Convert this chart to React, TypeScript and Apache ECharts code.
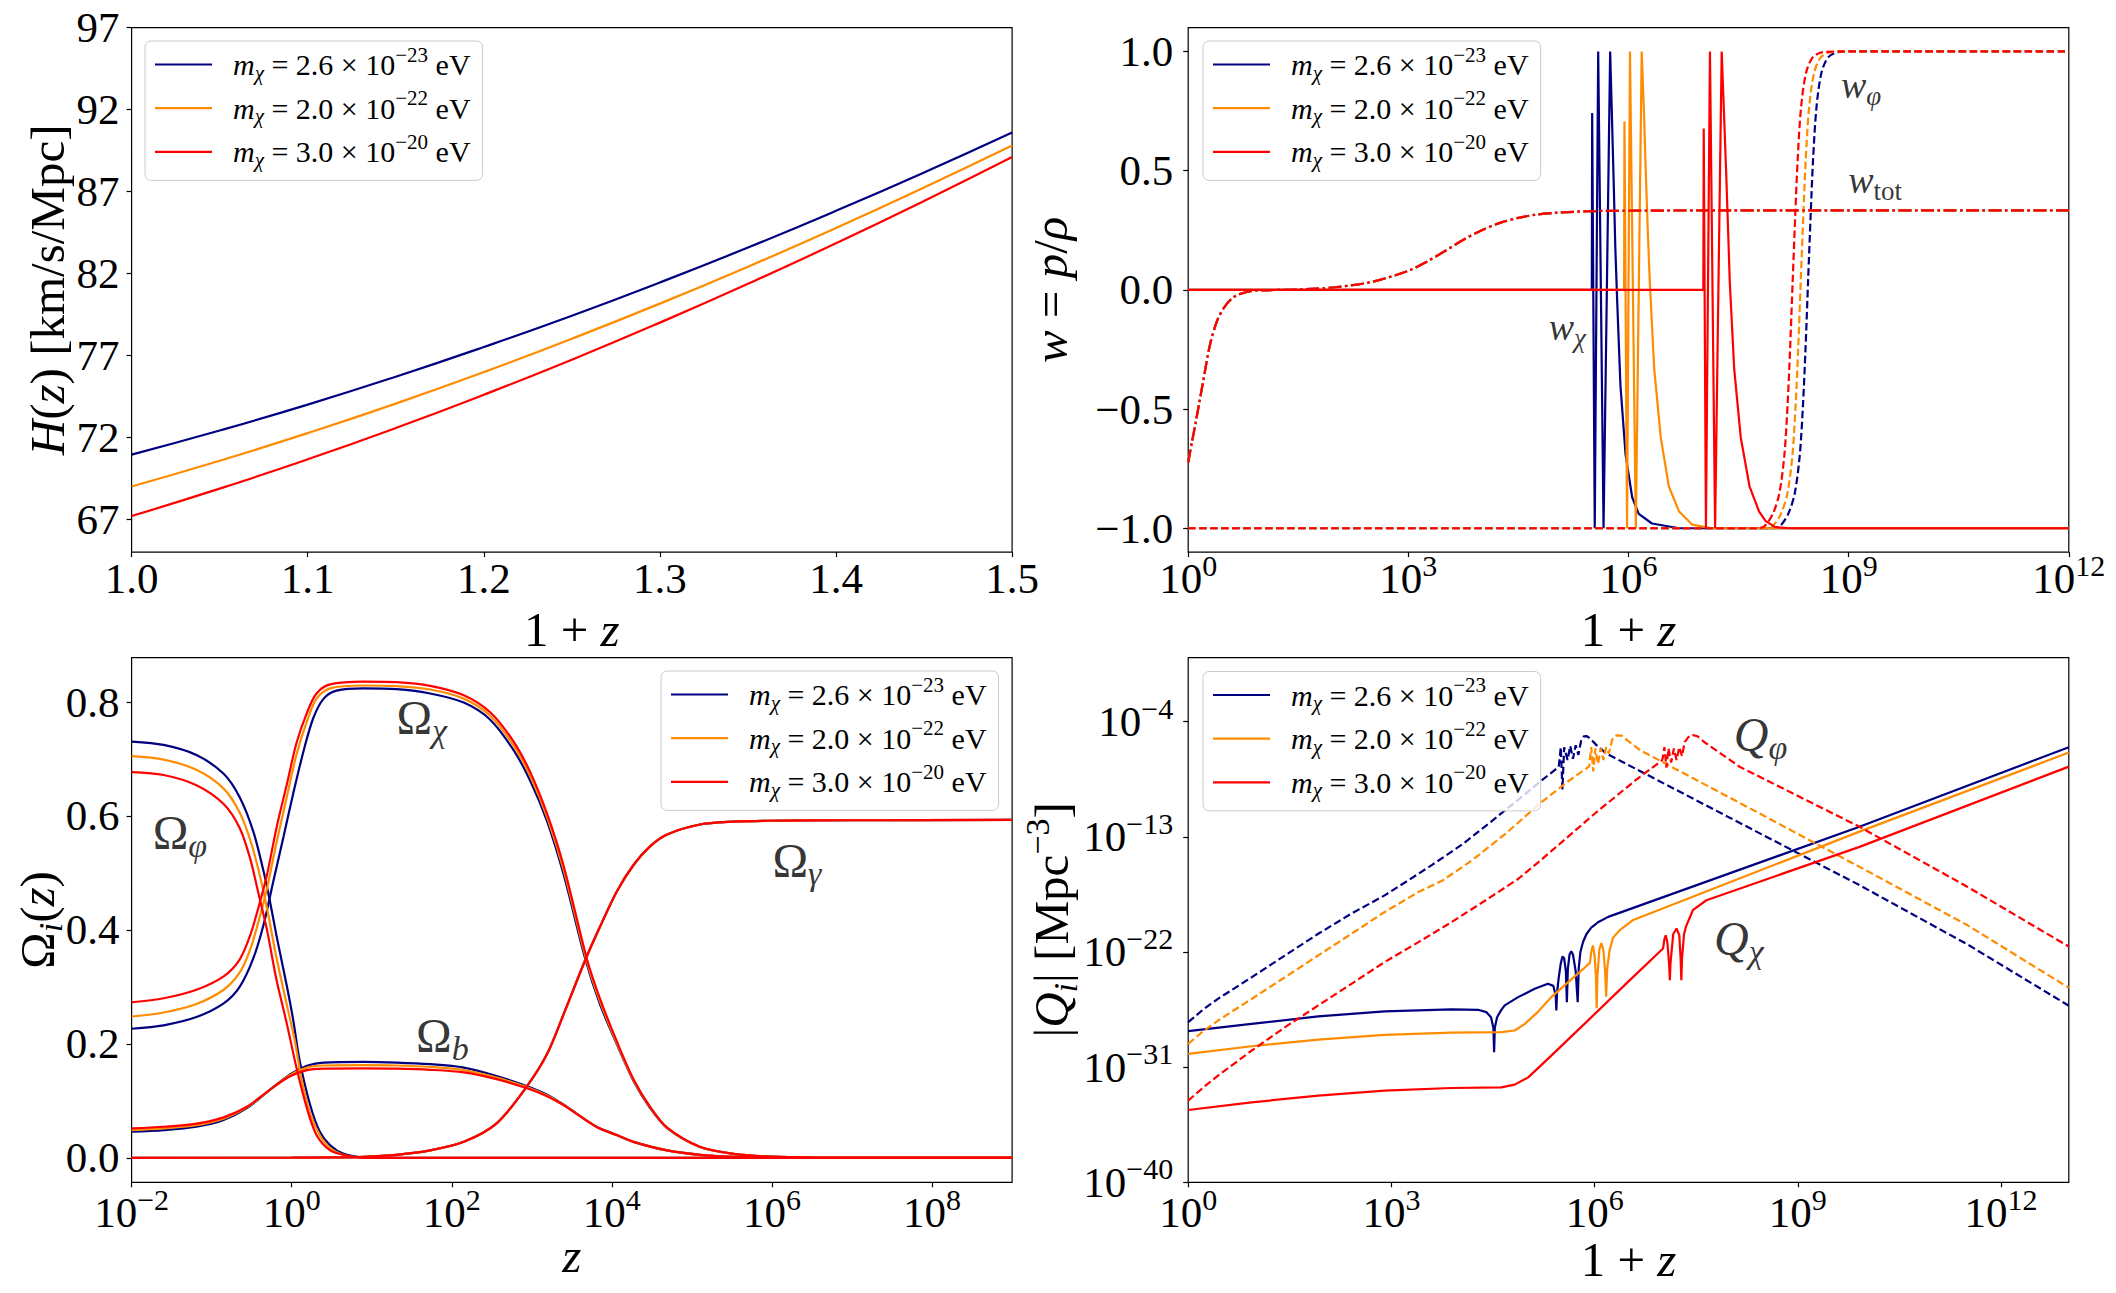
import React, { useEffect, useRef } from "react";
import * as echarts from "echarts";

const FONT = "Liberation Serif";
const NAVY = "#000080";
const ORANGE = "#ff8c00";
const RED = "#ff0000";
const COLORS = [NAVY, ORANGE, RED];
const MASS_NAMES = ["m1", "m2", "m3"];
const MASS_MANTISSA = ["2.6", "2.0", "3.0"];
const MASS_EXPONENT = ["−23", "−22", "−20"];

// ---------- Panel 1: H(z) vs 1+z ----------
const hX = [1.0, 1.05, 1.1, 1.15, 1.2, 1.25, 1.3, 1.35, 1.4, 1.45, 1.5];
const hNavy = [70.95, 72.42, 74.0, 75.7, 77.51, 79.42, 81.45, 83.58, 85.82, 88.16, 90.6];
const hOrange = [69.0, 70.57, 72.26, 74.06, 75.98, 78.02, 80.16, 82.41, 84.77, 87.24, 89.8];
const hRed = [67.2, 68.87, 70.66, 72.57, 74.6, 76.74, 79.0, 81.37, 83.84, 86.42, 89.1];
const hTicksX = [1.0, 1.1, 1.2, 1.3, 1.4, 1.5];
const hTicksY = [67, 72, 77, 82, 87, 92, 97];

// ---------- Panel 2: w vs log10(1+z) ----------
const wTot = [[0, -0.724], [0.05, -0.64], [0.1, -0.56], [0.15, -0.475], [0.2, -0.39], [0.3, -0.226], [0.4, -0.125], [0.5, -0.069], [0.6, -0.035], [0.7, -0.018], [0.85, -0.006], [1.0, -0.002], [1.5, 0.0015], [2.0, 0.011], [2.5, 0.033], [3.0, 0.08], [3.25, 0.118], [3.5, 0.163], [3.75, 0.21], [4.0, 0.25], [4.25, 0.281], [4.5, 0.302], [4.75, 0.316], [5.0, 0.323], [5.5, 0.33], [6.0, 0.332], [7.0, 0.333], [12.0, 0.333]];
const wPhiNavy = [[0, -1], [7.96, -1], [8.06, -0.992], [8.175, -0.941], [8.265, -0.854], [8.334, -0.693], [8.379, -0.475], [8.411, -0.256], [8.447, 0.035], [8.484, 0.327], [8.515, 0.545], [8.561, 0.764], [8.629, 0.91], [8.72, 0.975], [8.856, 0.997], [9.1, 1], [12, 1]];
const wPhiOrange = [[0, -1], [7.86, -1], [7.96, -0.992], [8.075, -0.941], [8.165, -0.854], [8.234, -0.693], [8.279, -0.475], [8.311, -0.256], [8.347, 0.035], [8.384, 0.327], [8.415, 0.545], [8.461, 0.764], [8.529, 0.91], [8.62, 0.975], [8.756, 0.997], [9.0, 1], [12, 1]];
const wPhiRed = [[0, -1], [7.75, -1], [7.85, -0.992], [7.965, -0.941], [8.055, -0.854], [8.124, -0.693], [8.169, -0.475], [8.201, -0.256], [8.237, 0.035], [8.274, 0.327], [8.305, 0.545], [8.351, 0.764], [8.419, 0.91], [8.51, 0.975], [8.646, 0.997], [8.9, 1], [12, 1]];
const wChiNavy = [[0, 0], [5.5, 0], [5.505, 0.742], [5.54, -1], [5.587, 1], [5.66, -1], [5.75, 1], [5.775, 0.72], [5.8, 0.43], [5.82, 0.18], [5.845, -0.04], [5.89, -0.4], [5.96, -0.69], [6.05, -0.87], [6.14, -0.94], [6.32, -0.98], [6.69, -1], [12, -1]];
const wChiOrange = [[0, 0], [5.94, 0], [5.945, 0.706], [5.98, -1], [6.02, 1], [6.1, -1], [6.18, 1], [6.21, 0.75], [6.235, 0.5], [6.26, 0.27], [6.29, 0.035], [6.35, -0.33], [6.44, -0.62], [6.55, -0.825], [6.69, -0.93], [6.87, -0.985], [7.14, -1], [12, -1]];
const wChiRed = [[0, 0], [7.02, 0], [7.025, 0.677], [7.055, -1], [7.11, 1], [7.18, -1], [7.27, 1], [7.3, 0.75], [7.33, 0.5], [7.355, 0.27], [7.38, 0.035], [7.44, -0.33], [7.53, -0.62], [7.65, -0.825], [7.78, -0.93], [7.87, -0.97], [8.0, -0.995], [8.2, -1], [12, -1]];
const wTicksX = [0, 3, 6, 9, 12];
const wTicksY = [-1, -0.5, 0, 0.5, 1];
const wNotes = [[9.17, 0.86, "{w|w}{ws|φ}"], [9.36, 0.462, "{w|w}{wr|tot}"], [5.166, -0.155, "{w|w}{ws|χ}"]];

// ---------- Panel 3: Omega_i vs log10(z) ----------
const omPhiNavy = [[-2, 0.7306], [-1.6, 0.7247], [-1.19, 0.707], [-0.85, 0.674], [-0.65, 0.633], [-0.48, 0.573], [-0.35, 0.502], [-0.27, 0.449], [-0.19, 0.39], [-0.06, 0.301], [0.02, 0.241], [0.1, 0.17], [0.23, 0.093], [0.35, 0.046], [0.48, 0.022], [0.65, 0.007], [0.9, 0.001], [1.5, 0], [9, 0]];
const omPhiOrange = [[-2, 0.705], [-1.6, 0.699], [-1.19, 0.681], [-0.85, 0.648], [-0.65, 0.606], [-0.5, 0.55], [-0.38, 0.485], [-0.29, 0.425], [-0.19, 0.351], [-0.06, 0.268], [0.04, 0.205], [0.12, 0.14], [0.23, 0.078], [0.35, 0.04], [0.48, 0.017], [0.65, 0.005], [0.9, 0.0005], [1.5, 0], [9, 0]];
const omPhiRed = [[-2, 0.677], [-1.6, 0.672], [-1.19, 0.654], [-0.85, 0.621], [-0.65, 0.579], [-0.52, 0.526], [-0.42, 0.467], [-0.31, 0.401], [-0.19, 0.3125], [-0.06, 0.235], [0.06, 0.158], [0.19, 0.087], [0.31, 0.04], [0.48, 0.013], [0.69, 0.004], [0.9, 0], [9, 0]];
const omChiNavy = [[-2, 0.2265], [-1.6, 0.2325], [-1.19, 0.247], [-0.85, 0.271], [-0.65, 0.3], [-0.48, 0.35], [-0.35, 0.41], [-0.23, 0.485], [-0.1, 0.565], [0.02, 0.64], [0.15, 0.715], [0.27, 0.772], [0.4, 0.806], [0.56, 0.82], [0.9, 0.824], [1.31, 0.8225], [1.73, 0.815], [2.15, 0.799], [2.48, 0.769], [2.77, 0.716], [2.98, 0.662], [3.19, 0.591], [3.4, 0.496], [3.67, 0.348], [3.85, 0.27], [4.06, 0.2], [4.27, 0.135], [4.48, 0.087], [4.69, 0.052], [5.1, 0.019], [5.52, 0.007], [5.94, 0.0024], [6.5, 0.0005], [7, 0], [9, 0]];
const omChiOrange = [[-2, 0.248], [-1.6, 0.255], [-1.19, 0.27], [-0.85, 0.295], [-0.65, 0.325], [-0.52, 0.365], [-0.42, 0.412], [-0.31, 0.472], [-0.19, 0.553], [-0.06, 0.634], [0.06, 0.708], [0.19, 0.766], [0.31, 0.806], [0.48, 0.824], [0.9, 0.829], [1.31, 0.828], [1.73, 0.822], [2.15, 0.806], [2.48, 0.776], [2.77, 0.724], [2.98, 0.67], [3.19, 0.598], [3.4, 0.504], [3.68, 0.348], [3.85, 0.275], [4.06, 0.202], [4.27, 0.136], [4.48, 0.088], [4.69, 0.0525], [5.1, 0.019], [5.52, 0.007], [5.94, 0.0024], [6.5, 0.0005], [7, 0], [9, 0]];
const omChiRed = [[-2, 0.273], [-1.6, 0.28], [-1.19, 0.295], [-0.85, 0.3185], [-0.65, 0.348], [-0.52, 0.39], [-0.42, 0.437], [-0.31, 0.496], [-0.19, 0.579], [-0.06, 0.656], [0.06, 0.728], [0.19, 0.781], [0.31, 0.815], [0.48, 0.831], [0.9, 0.836], [1.31, 0.835], [1.73, 0.8285], [2.15, 0.812], [2.48, 0.782], [2.77, 0.731], [2.98, 0.677], [3.19, 0.604], [3.4, 0.511], [3.69, 0.348], [3.85, 0.28], [4.06, 0.205], [4.27, 0.138], [4.48, 0.089], [4.69, 0.053], [5.1, 0.0195], [5.52, 0.007], [5.94, 0.0024], [6.5, 0.0005], [7, 0], [9, 0]];
const omBNavy = [[-2, 0.0457], [-1.6, 0.0486], [-1.19, 0.0546], [-0.85, 0.0664], [-0.56, 0.0872], [-0.27, 0.1198], [-0.02, 0.1465], [0.19, 0.1613], [0.4, 0.1672], [0.9, 0.1684], [1.31, 0.1672], [1.73, 0.1643], [2.15, 0.1583], [2.56, 0.1435], [2.94, 0.1257], [3.19, 0.1109], [3.4, 0.0931], [3.81, 0.0546], [4.06, 0.04], [4.27, 0.028], [4.69, 0.013], [5.1, 0.0053], [5.52, 0.0018], [6.5, 0], [9, 0]];
const omBOrange = [[-2, 0.0486], [-1.6, 0.0515], [-1.19, 0.0573], [-0.85, 0.0687], [-0.56, 0.0884], [-0.27, 0.1198], [-0.02, 0.145], [0.19, 0.1582], [0.4, 0.162], [0.9, 0.1627], [1.31, 0.162], [1.73, 0.1594], [2.15, 0.154], [2.56, 0.1408], [2.94, 0.1238], [3.19, 0.1095], [3.4, 0.0925], [3.81, 0.0543], [4.06, 0.04], [4.27, 0.028], [4.69, 0.013], [5.1, 0.0053], [5.52, 0.0018], [6.5, 0], [9, 0]];
const omBRed = [[-2, 0.0516], [-1.6, 0.0545], [-1.19, 0.06], [-0.85, 0.071], [-0.56, 0.0895], [-0.27, 0.1198], [-0.02, 0.143], [0.19, 0.154], [0.4, 0.1565], [0.9, 0.157], [1.31, 0.1565], [1.73, 0.1545], [2.15, 0.15], [2.56, 0.138], [2.94, 0.122], [3.19, 0.108], [3.4, 0.092], [3.81, 0.054], [4.06, 0.04], [4.27, 0.028], [4.69, 0.013], [5.1, 0.0053], [5.52, 0.0018], [6.5, 0], [9, 0]];
const omGamma = [[-2, 0], [0, 0.0002], [0.5, 0.0008], [0.9, 0.0018], [1.31, 0.0053], [1.73, 0.013], [2.15, 0.028], [2.56, 0.0605], [2.94, 0.1257], [3.19, 0.182], [3.4, 0.253], [3.67, 0.348], [3.85, 0.405], [4.06, 0.467], [4.27, 0.514], [4.48, 0.547], [4.69, 0.5675], [5.1, 0.585], [5.52, 0.59], [5.94, 0.5916], [7.0, 0.5925], [9, 0.593]];
const omTicksX = [-2, 0, 2, 4, 6, 8];
const omTicksY = [0, 0.2, 0.4, 0.6, 0.8];
const omNotes = [[1.625, 0.772, "{O|Ω}{Os|χ}"], [-1.396, 0.5705, "{O|Ω}{Os|φ}"], [1.883, 0.2147, "{O|Ω}{Os|b}"], [6.3125, 0.522, "{O|Ω}{Os|γ}"]];

// ---------- Panel 4: log10|Q_i| vs log10(1+z) ----------
const qPhiNavy = [[0, -27.49], [0.22, -26.5], [0.44, -25.66], [0.94, -23.97], [1.43, -22.27], [1.92, -20.58], [2.41, -19.0], [2.9, -17.58], [3.25, -16.4], [3.6, -15.2], [4.05, -13.58], [4.5, -11.7], [5.0, -9.55], [5.19, -8.71], [5.47, -7.55], [5.5, -6.0], [5.525, -9.3], [5.55, -6.0], [5.6, -7.0], [5.64, -5.9], [5.68, -6.9], [5.72, -5.85], [5.76, -6.6], [5.8, -5.5], [5.84, -5.15], [5.88, -5.13], [5.93, -5.3], [6.02, -5.8], [6.17, -6.49], [7.5, -10.15], [9.91, -16.78], [11.5, -21.4], [13.0, -26.2]];
const qPhiOrange = [[0, -29.18], [0.22, -28.2], [0.44, -27.36], [0.94, -25.66], [1.43, -23.97], [1.92, -22.27], [2.41, -20.58], [2.9, -18.88], [3.4, -17.31], [3.76, -16.4], [4.2, -14.8], [4.7, -12.7], [5.19, -10.4], [5.6, -8.7], [5.92, -7.5], [5.95, -6.0], [5.98, -7.9], [6.01, -6.1], [6.05, -7.3], [6.09, -6.1], [6.13, -7.0], [6.17, -6.0], [6.21, -6.5], [6.26, -5.4], [6.32, -5.08], [6.4, -5.1], [6.48, -5.45], [6.67, -6.23], [8.3, -10.8], [9.91, -15.35], [11.5, -19.9], [13.0, -24.8]];
const qPhiRed = [[0, -33.62], [0.22, -32.6], [0.44, -31.66], [0.94, -29.7], [1.43, -27.88], [1.92, -26.18], [2.41, -24.49], [2.9, -22.79], [3.4, -21.23], [3.89, -19.66], [4.38, -18.0], [4.87, -16.3], [5.19, -14.9], [6.0, -11.2], [6.6, -8.6], [7.0, -7.0], [7.03, -6.0], [7.06, -7.6], [7.09, -6.1], [7.13, -7.2], [7.17, -6.1], [7.21, -7.0], [7.25, -6.0], [7.29, -6.7], [7.33, -5.6], [7.4, -5.1], [7.45, -5.06], [7.52, -5.15], [7.62, -5.6], [8.14, -7.53], [9.91, -12.22], [11.5, -16.9], [13.0, -21.58]];
const qChiNavy = [[0, -28.19], [0.935, -27.62], [1.92, -27.04], [2.9, -26.65], [3.886, -26.49], [4.28, -26.52], [4.4, -26.7], [4.47, -27.1], [4.505, -27.9], [4.516, -29.83], [4.527, -27.9], [4.56, -27.1], [4.62, -26.55], [4.673, -26.18], [4.87, -25.53], [5.115, -24.88], [5.31, -24.49], [5.39, -24.65], [5.425, -25.4], [5.435, -26.57], [5.445, -25.2], [5.47, -24.0], [5.5, -22.9], [5.525, -22.35], [5.55, -22.5], [5.575, -23.5], [5.59, -25.92], [5.605, -23.3], [5.63, -22.2], [5.655, -21.95], [5.68, -22.2], [5.72, -23.5], [5.75, -25.92], [5.765, -23.3], [5.79, -22.0], [5.83, -21.2], [5.88, -20.6], [5.95, -20.1], [6.05, -19.68], [6.2, -19.26], [9.91, -12.22], [13.0, -6.0]];
const qChiOrange = [[0, -29.96], [0.935, -29.37], [1.92, -28.85], [2.9, -28.48], [3.886, -28.3], [4.624, -28.27], [4.82, -28.14], [4.97, -27.62], [5.16, -26.7], [5.36, -25.53], [5.61, -24.36], [5.85, -23.24], [5.93, -22.85], [5.95, -22.0], [5.975, -21.5], [6.0, -22.3], [6.02, -24.0], [6.03, -26.4], [6.04, -24.0], [6.07, -21.8], [6.1, -21.3], [6.13, -21.9], [6.155, -23.5], [6.17, -25.5], [6.185, -23.3], [6.22, -21.9], [6.27, -20.9], [6.37, -20.3], [6.57, -19.5], [9.91, -12.6], [13.0, -6.42]];
const qChiRed = [[0, -34.35], [0.935, -33.75], [1.92, -33.23], [2.9, -32.84], [3.886, -32.63], [4.62, -32.58], [4.82, -32.37], [5.02, -31.8], [5.36, -30.1], [5.85, -27.62], [6.5, -24.3], [7.01, -21.73], [7.03, -21.0], [7.05, -20.7], [7.075, -21.3], [7.1, -23.0], [7.11, -24.2], [7.12, -22.9], [7.16, -20.6], [7.21, -20.17], [7.25, -20.7], [7.27, -22.6], [7.28, -24.2], [7.29, -22.5], [7.32, -20.6], [7.35, -20.0], [7.45, -18.74], [7.65, -17.96], [9.91, -13.79], [13.0, -7.52]];
const qTicksX = [0, 3, 6, 9, 12];
const qTicksY = [-40, -31, -22, -13, -4];
const qNotes = [[8.45, -5.0, "{Q|Q}{Qs|φ}"], [8.13, -20.95, "{Q|Q}{Qs|χ}"]];

// ---------- styling ----------
const GRIDS = [
  { left: 131.6, top: 27.6, width: 880.5, height: 524.5 },
  { left: 1188.2, top: 27.6, width: 880.6, height: 524.5 },
  { left: 131.6, top: 657.6, width: 880.5, height: 524.7 },
  { left: 1188.2, top: 657.6, width: 880.6, height: 524.7 },
];
const LEGEND_POS = [
  { left: 145, top: 41 },
  { left: 1203, top: 41 },
  { left: 661, top: 671 },
  { left: 1203, top: 671.5 },
];
const DASHED = [7.5, 3.5];
const DASHDOT = [13, 3.5, 2.5, 3.5];

const tickRich = {
  b: { fontFamily: FONT, fontSize: 43, color: "#000" },
  s: { fontFamily: FONT, fontSize: 30, color: "#000", verticalAlign: "top", height: 16 },
};
const nameRich = {
  t: { fontFamily: FONT, fontSize: 49, color: "#000" },
  i: { fontFamily: FONT, fontSize: 49, color: "#000", fontStyle: "italic" },
  sub: { fontFamily: FONT, fontSize: 34, color: "#000", fontStyle: "italic", verticalAlign: "bottom", height: 22 },
  sup: { fontFamily: FONT, fontSize: 34, color: "#000", verticalAlign: "top", height: 20 },
};
const legendRich = {
  gap: { fontFamily: FONT, fontSize: 30, width: 16 },
  i: { fontFamily: FONT, fontSize: 30, color: "#000", fontStyle: "italic" },
  sub: { fontFamily: FONT, fontSize: 21, color: "#000", fontStyle: "italic", verticalAlign: "bottom", height: 14 },
  t: { fontFamily: FONT, fontSize: 30, color: "#000" },
  sup: { fontFamily: FONT, fontSize: 21, color: "#000", verticalAlign: "top", height: 10 },
};
const noteRich = {
  O: { fontFamily: FONT, fontSize: 48, color: "#000" },
  Os: { fontFamily: FONT, fontSize: 34, color: "#000", fontStyle: "italic", verticalAlign: "bottom", height: 22 },
  Q: { fontFamily: FONT, fontSize: 48, color: "#000", fontStyle: "italic" },
  Qs: { fontFamily: FONT, fontSize: 34, color: "#000", fontStyle: "italic", verticalAlign: "bottom", height: 22 },
  w: { fontFamily: FONT, fontSize: 38, color: "#000", fontStyle: "italic" },
  ws: { fontFamily: FONT, fontSize: 27, color: "#000", fontStyle: "italic", verticalAlign: "bottom", height: 16 },
  wr: { fontFamily: FONT, fontSize: 27, color: "#000", verticalAlign: "bottom", height: 16 },
};

const expLabel = (v: number) => `{b|10}{s|${v < 0 ? "−" + Math.abs(v) : String(v)}}`;
const signedFixed = (v: number) => (v < 0 ? "−" : "") + Math.abs(v).toFixed(1);

function axis(grid: number, min: number, max: number, ticks: number[], fmt: (v: number) => string, margin: number, name: string, nameGap: number, vertical: boolean) {
  return {
    type: "value",
    gridIndex: grid,
    min,
    max,
    axisLine: { show: false, onZero: false },
    axisTick: { show: true, inside: false, length: 5, lineStyle: { color: "#000", width: 1.2 }, customValues: ticks },
    axisLabel: {
      show: true,
      customValues: ticks,
      formatter: (v: number) => fmt(v),
      margin,
      color: "#000",
      fontFamily: FONT,
      fontSize: 43,
      rich: tickRich,
      showMinLabel: true,
      showMaxLabel: true,
      hideOverlap: false,
    },
    splitLine: { show: false },
    minorTick: { show: false },
    name,
    nameLocation: "middle",
    nameGap,
    nameRotate: vertical ? 90 : 0,
    nameTextStyle: { color: "#000", fontFamily: FONT, fontSize: 49, rich: nameRich },
    nameMoveOverlap: false,
    silent: true,
  };
}

function line(name: string, color: string, data: number[][], idx: number, type: any, smooth: any) {
  return {
    type: "line",
    name,
    data,
    xAxisIndex: idx,
    yAxisIndex: idx,
    color,
    itemStyle: { color },
    showSymbol: false,
    symbol: "none",
    silent: true,
    smooth,
    lineStyle: { color, width: 2.2, type },
  };
}

function notes(idx: number, list: any[]) {
  return {
    type: "scatter",
    xAxisIndex: idx,
    yAxisIndex: idx,
    symbolSize: 1,
    silent: true,
    z: 10,
    itemStyle: { color: "rgba(0,0,0,0)" },
    label: { show: true, position: "inside", color: "#000", rich: noteRich },
    data: list.map((n) => ({ value: [n[0], n[1]], label: { formatter: n[2] } })),
  };
}

function buildOption() {
  const series: any[] = [];
  const hs = [hNavy, hOrange, hRed];
  const wPhi = [wPhiNavy, wPhiOrange, wPhiRed];
  const wChi = [wChiNavy, wChiOrange, wChiRed];
  const omPhi = [omPhiNavy, omPhiOrange, omPhiRed];
  const omChi = [omChiNavy, omChiOrange, omChiRed];
  const omB = [omBNavy, omBOrange, omBRed];
  const qPhi = [qPhiNavy, qPhiOrange, qPhiRed];
  const qChi = [qChiNavy, qChiOrange, qChiRed];

  for (let m = 0; m < 3; m++) {
    series.push(line(MASS_NAMES[m], COLORS[m], hX.map((x, i) => [x, hs[m][i]]), 0, "solid", true));
  }
  for (let m = 0; m < 3; m++) {
    series.push(line(MASS_NAMES[m], COLORS[m], wTot, 1, DASHDOT, 0.3));
    series.push(line(MASS_NAMES[m], COLORS[m], wPhi[m], 1, DASHED, 0.3));
    series.push(line(MASS_NAMES[m], COLORS[m], wChi[m], 1, "solid", false));
  }
  for (let m = 0; m < 3; m++) {
    series.push(line(MASS_NAMES[m], COLORS[m], omPhi[m], 2, "solid", 0.3));
    series.push(line(MASS_NAMES[m], COLORS[m], omChi[m], 2, "solid", 0.3));
    series.push(line(MASS_NAMES[m], COLORS[m], omB[m], 2, "solid", 0.3));
    series.push(line(MASS_NAMES[m], COLORS[m], omGamma, 2, "solid", 0.3));
  }
  for (let m = 0; m < 3; m++) {
    series.push(line(MASS_NAMES[m], COLORS[m], qPhi[m], 3, DASHED, false));
    series.push(line(MASS_NAMES[m], COLORS[m], qChi[m], 3, "solid", false));
  }
  series.push(notes(1, wNotes));
  series.push(notes(2, omNotes));
  series.push(notes(3, qNotes));

  const legendText: Record<string, string> = {};
  MASS_NAMES.forEach((n, i) => {
    legendText[n] = `{gap| }{i|m}{sub|χ}{t| = ${MASS_MANTISSA[i]} × 10}{sup|${MASS_EXPONENT[i]}}{t| eV}`;
  });

  const legends = LEGEND_POS.map((p) => ({
    show: true,
    orient: "vertical",
    left: p.left,
    top: p.top,
    data: MASS_NAMES,
    selectedMode: false,
    icon: "rect",
    itemWidth: 57,
    itemHeight: 2.2,
    itemGap: 4.7,
    padding: [3, 12, 10, 10],
    backgroundColor: "rgba(255,255,255,0.8)",
    borderColor: "#cccccc",
    borderWidth: 1,
    borderRadius: 6,
    itemStyle: { borderWidth: 0 },
    formatter: (name: string) => legendText[name],
    textStyle: { fontFamily: FONT, fontSize: 30, color: "#000", rich: legendRich },
  }));

  const xName1 = "{t|1 + }{i|z}";
  return {
    animation: false,
    backgroundColor: "#ffffff",
    textStyle: { fontFamily: FONT, color: "#000" },
    grid: GRIDS.map((g) => ({
      ...g,
      show: true,
      borderColor: "#000",
      borderWidth: 1.2,
      backgroundColor: "transparent",
      containLabel: false,
      outerBoundsMode: "none",
    })),
    legend: legends,
    xAxis: [
      axis(0, 1.0, 1.5, hTicksX, (v) => v.toFixed(1), 5, xName1, 53, false),
      axis(1, 0, 12, wTicksX, expLabel, 5, xName1, 53, false),
      axis(2, -2, 9, omTicksX, expLabel, 9, "{i|z}", 49, false),
      axis(3, 0, 13, qTicksX, expLabel, 9, xName1, 53, false),
    ],
    yAxis: [
      axis(0, 65, 97, hTicksY, (v) => String(v), 12, "{i|H}{t|(}{i|z}{t|) [km/s/Mpc]}", 60, true),
      axis(1, -1.1, 1.1, wTicksY, signedFixed, 15, "{i|w}{t| = }{i|p}{t|/}{i|ρ}", 113, true),
      axis(2, -0.043, 0.878, omTicksY, (v) => v.toFixed(1), 12, "{t|Ω}{sub|i}{t|(}{i|z}{t|)}", 70, true),
      axis(3, -40, 1, qTicksY, expLabel, 15, "{t||}{i|Q}{sub|i}{t|| [Mpc}{sup|−3}{t|]}", 112, true),
    ],
    series,
  };
}

export default function App() {
  const ref = useRef<HTMLDivElement>(null);
  useEffect(() => {
    const chart = echarts.init(ref.current as HTMLDivElement, null, { renderer: "svg" });
    chart.setOption(buildOption() as any);
    return () => {
      chart.dispose();
    };
  }, []);
  return (
    <div
      ref={ref}
      style={{ position: "absolute", left: 0, top: 0, width: 2116, height: 1293, background: "#ffffff" }}
    />
  );
}
